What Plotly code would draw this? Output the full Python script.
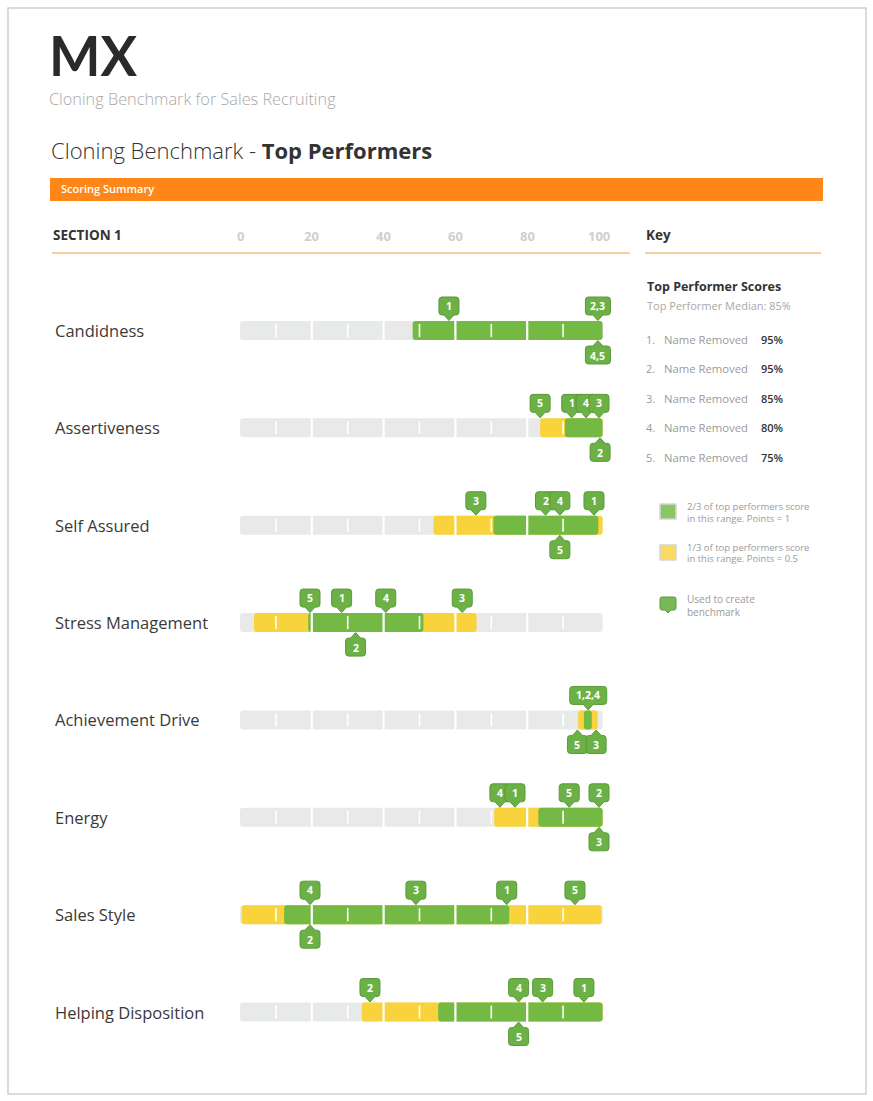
import plotly.graph_objects as go

# ---------------- data ----------------
categories = ["Candidness", "Assertiveness", "Self Assured", "Stress Management",
              "Achievement Drive", "Energy", "Sales Style", "Helping Disposition"]
green_start = [48.1, 90.5, 70.6, 19.0, 95.8, 83.1, 12.3, 55.2]
green_end = [101, 101, 99.8, 51.1, 98.0, 101, 75.0, 101]
yellow_start = [None, 83.6, 53.9, 3.9, 94.2, 70.8, 0.5, 33.9]
yellow_end = [None, 101, 101, 65.9, 99.6, 101, 100.7, 101]
track_start = 0
track_end = 101

above_labels = [["1", "2,3"], ["5", "1", "4", "3"], ["3", "2", "4", "1"], ["5", "1", "4", "3"],
                ["1,2,4"], ["4", "1", "5", "2"], ["4", "3", "1", "5"], ["2", "4", "3", "1"]]
above_values = [[58.2, 99.7], [83.6, 92.4, 96.4, 100], [65.7, 85.1, 89.1, 98.6], [19.5, 28.3, 40.6, 61.9],
                [97.0], [72.4, 76.6, 91.7, 100], [19.5, 49.0, 74.3, 93.3], [36.2, 77.6, 84.3, 95.8]]
below_labels = [["4,5"], ["2"], ["5"], ["2"], ["5", "3"], ["3"], ["2"], ["5"]]
below_values = [[99.7], [100.3], [89.1], [32.2], [94.0, 99.2], [100], [19.5], [77.6]]

axis_ticks = [0, 20, 40, 60, 80, 100]
segment_breaks = [20, 40, 60, 80]
minor_ticks = [10, 30, 50, 70, 90]

performer_names = ["Name Removed"] * 5
performer_scores = [95, 95, 85, 80, 75]
median_score = 85

# ---------------- layout constants ----------------
W, H = 873, 1101
X0_PX, X_SCALE = 240.0, 3.59        # px of value 0, px per unit
ROW0_PX, ROW_STEP = 330.5, 97.36    # px of first row centre, px per row
BAR_PX = 19.0

GREEN = "#73B944"
YELLOW = "#F8D33C"
TRACK = "#E8E9E9"
CALL_FILL = "#6BB145"
CALL_LINE = "#5A9A3A"
ORANGE = "#FF8619"
DARK = "#333333"
GREY = "#9A9A9A"
FONT = "Open Sans"

def px(x):
    return x / W

def py(y):
    return 1 - y / H

n = len(categories)
rows = list(range(n))
bar_w = BAR_PX / ROW_STEP

fig = go.Figure()

# track
fig.add_trace(go.Bar(orientation="h", y=rows, base=[track_start] * n,
                     x=[track_end - track_start] * n, width=bar_w,
                     marker=dict(color=TRACK, cornerradius=3, line=dict(width=0)),
                     hoverinfo="skip", showlegend=False))
# yellow ranges
fig.add_trace(go.Bar(orientation="h", y=rows, base=yellow_start,
                     x=[(e - s) if s is not None else None for s, e in zip(yellow_start, yellow_end)],
                     width=bar_w, marker=dict(color=YELLOW, cornerradius=3, line=dict(width=0)),
                     hoverinfo="skip", showlegend=False))
# green ranges
fig.add_trace(go.Bar(orientation="h", y=rows, base=green_start,
                     x=[e - s for s, e in zip(green_start, green_end)],
                     width=bar_w, marker=dict(color=GREEN, cornerradius=3, line=dict(width=0)),
                     hoverinfo="skip", showlegend=False))

shapes = []
annotations = []

# white segment breaks and minor ticks
half = bar_w / 2
for r in rows:
    for b in segment_breaks:
        shapes.append(dict(type="line", xref="x", yref="y", x0=b, x1=b, y0=r - half - 0.01,
                           y1=r + half + 0.01, line=dict(color="white", width=2.2), layer="above"))
    for t in minor_ticks:
        shapes.append(dict(type="line", xref="x", yref="y", x0=t, x1=t, y0=r - 6.5 / ROW_STEP,
                           y1=r + 6.5 / ROW_STEP, line=dict(color="white", width=1.6), layer="above"))


def callout_path(w, up=True, r=3.0):
    s = 1 if up else -1
    b, t, tip = 15.5 * s, 33.5 * s, 10.0 * s
    hw = w / 2.0
    rr = r * s
    return (f"M {-hw + r},{t} L {hw - r},{t} Q {hw},{t} {hw},{t - rr} "
            f"L {hw},{b + rr} Q {hw},{b} {hw - r},{b} L 5,{b} L 0,{tip} L -5,{b} "
            f"L {-hw + r},{b} Q {-hw},{b} {-hw},{b + rr} L {-hw},{t - rr} Q {-hw},{t} {-hw + r},{t} Z")


def add_callouts(labels, values, r, up):
    pairs = sorted(zip(values, labels), key=lambda p: p[0])
    for v, lab in pairs:
        w = max(20, 6 * len(lab) + 7)
        shapes.append(dict(type="path", xref="x", yref="y", xsizemode="pixel", ysizemode="pixel",
                           xanchor=v, yanchor=r, path=callout_path(w, up),
                           fillcolor=CALL_FILL, line=dict(color=CALL_LINE, width=1), layer="above"))
        annotations.append(dict(x=v, y=r, xref="x", yref="y", text=f"<b>{lab}</b>", showarrow=False,
                                yshift=24.5 if up else -25, xanchor="center", yanchor="middle",
                                font=dict(family=FONT, size=10.5, color="white")))


for r in rows:
    add_callouts(above_labels[r], above_values[r], r, True)
    add_callouts(below_labels[r], below_values[r], r, False)

# row labels
for r, cat in enumerate(categories):
    annotations.append(dict(x=px(53), y=r, xref="paper", yref="y", text=cat, showarrow=False,
                            xanchor="left", yanchor="middle",
                            font=dict(family=FONT, size=16.5, color="#3A3A3A", weight=400)))

# axis tick labels
for t in axis_ticks:
    annotations.append(dict(x=t, y=py(236), xref="x", yref="paper", text=f"<b>{t}</b>",
                            showarrow=False, xanchor="center", yanchor="middle",
                            font=dict(family=FONT, size=13, color="#CFCFCF")))

# frame
shapes.append(dict(type="rect", xref="paper", yref="paper", x0=px(8), x1=px(866), y0=py(8), y1=py(1094),
                   line=dict(color="#CFCFCF", width=1.5), fillcolor="rgba(0,0,0,0)", layer="below"))
# orange header band
shapes.append(dict(type="rect", xref="paper", yref="paper", x0=px(50), x1=px(823), y0=py(178), y1=py(201),
                   line=dict(width=0), fillcolor=ORANGE, layer="below"))
# underlines
shapes.append(dict(type="line", xref="paper", yref="paper", x0=px(52), x1=px(630), y0=py(253), y1=py(253),
                   line=dict(color="#F29A45", width=1)))
shapes.append(dict(type="line", xref="paper", yref="paper", x0=px(645), x1=px(821), y0=py(253), y1=py(253),
                   line=dict(color="#F29A45", width=1)))


def text(x, y, s, size, color=DARK, weight=400, anchor="left", family=FONT):
    annotations.append(dict(x=px(x), y=py(y), xref="paper", yref="paper", text=s, showarrow=False,
                            xanchor=anchor, yanchor="middle",
                            font=dict(family=family, size=size, color=color, weight=weight)))


# header
text(47, 55, "MX", 54.5, "#2A2A2A", 700, family="Lato")
text(47, 99, "Cloning Benchmark for Sales Recruiting", 16.3, "#A8A8A8", 300)
text(49, 150, "Cloning Benchmark - <b>Top Performers</b>", 22, DARK, 300)
text(59, 189, "Scoring Summary", 11, "white", 600)
text(51, 235, "SECTION 1", 13.5, DARK, 700)
text(644, 235, "Key", 13.5, DARK, 700)

# key: scores
text(645, 287, "Top Performer Scores", 12.5, DARK, 700)
text(645, 305, f"Top Performer Median: {median_score}%", 11, "#A8A8A8", 400)
for i, (nm, sc) in enumerate(zip(performer_names, performer_scores)):
    yy = 339 + 29.5 * i
    text(644, yy, f"{i + 1}.", 11, GREY, 400)
    text(662, yy, nm, 11.3, GREY, 400)
    text(759, yy, f"{sc}%", 11, DARK, 600)

# key: legend
shapes.append(dict(type="rect", xref="paper", yref="paper", x0=px(660), x1=px(676), y0=py(519), y1=py(504),
                   line=dict(color="#D5D5D5", width=1.5), fillcolor="#8AC764"))
shapes.append(dict(type="rect", xref="paper", yref="paper", x0=px(660), x1=px(676), y0=py(560), y1=py(545),
                   line=dict(color="#D5D5D5", width=1.5), fillcolor="#F9DA62"))
shapes.append(dict(type="path", xref="paper", yref="paper",
                   path=(f"M {px(662)},{py(597)} L {px(674)},{py(597)} Q {px(676)},{py(597)} {px(676)},{py(599)} "
                         f"L {px(676)},{py(608)} Q {px(676)},{py(610)} {px(674)},{py(610)} L {px(671)},{py(610)} "
                         f"L {px(668)},{py(613)} L {px(665)},{py(610)} L {px(662)},{py(610)} "
                         f"Q {px(660)},{py(610)} {px(660)},{py(608)} L {px(660)},{py(599)} "
                         f"Q {px(660)},{py(597)} {px(662)},{py(597)} Z"),
                   line=dict(color=CALL_LINE, width=1), fillcolor="#78B857"))
text(685, 506, "2/3 of top performers score", 9.5, GREY, 400)
text(685, 518, "in this range. Points = 1", 9.5, GREY, 400)
text(685, 547, "1/3 of top performers score", 9.5, GREY, 400)
text(685, 559, "in this range. Points = 0.5", 9.5, GREY, 400)
text(685, 599, "Used to create", 10, GREY, 400)
text(685, 612, "benchmark", 10, GREY, 400)

x_lo = (0 - X0_PX) / X_SCALE
x_hi = (W - X0_PX) / X_SCALE
y_top = (0 - ROW0_PX) / ROW_STEP
y_bot = (H - ROW0_PX) / ROW_STEP

fig.update_layout(
    width=W, height=H, margin=dict(l=0, r=0, t=0, b=0),
    paper_bgcolor="white", plot_bgcolor="white",
    barmode="overlay", showlegend=False,
    xaxis=dict(range=[x_lo, x_hi], visible=False, fixedrange=True),
    yaxis=dict(range=[y_bot, y_top], visible=False, fixedrange=True),
    shapes=shapes, annotations=annotations,
)

fig.write_html("out.html", config={"displayModeBar": False},
               post_script="document.body.style.margin='0px';document.body.style.overflow='hidden';")
